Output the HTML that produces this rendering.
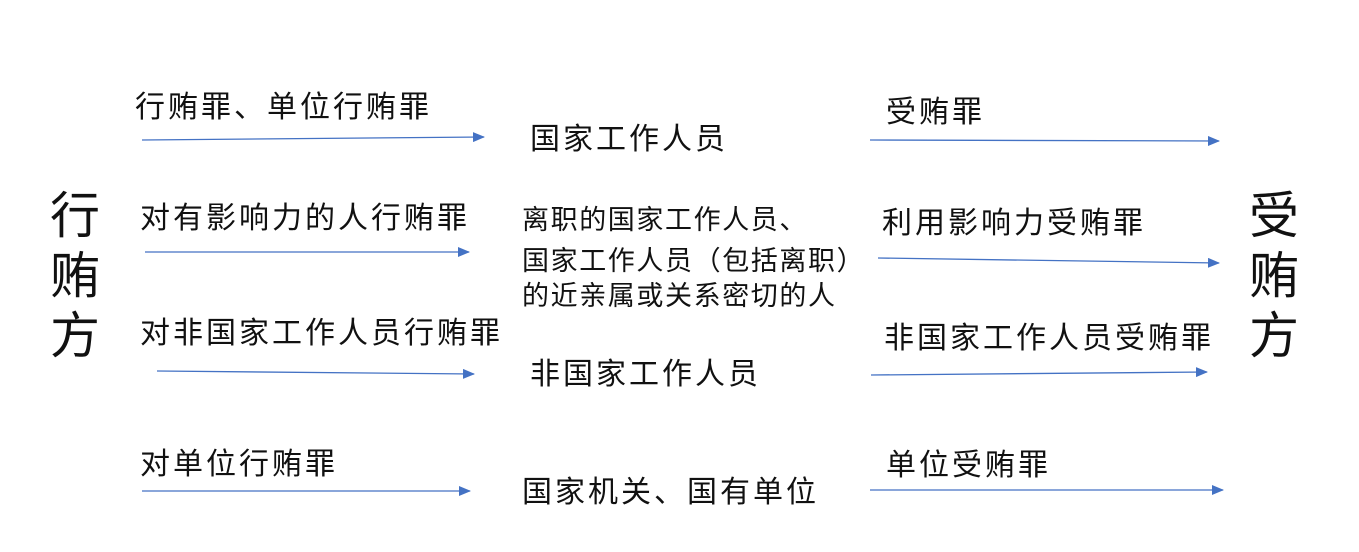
<!DOCTYPE html>
<html><head><meta charset="utf-8"><style>
html,body{margin:0;padding:0;background:#fff;}
body{width:1359px;height:552px;position:relative;overflow:hidden;font-family:"Liberation Sans","Noto Sans CJK SC",sans-serif;color:#111;}
.t{position:absolute;white-space:nowrap;line-height:1;font-size:30px;letter-spacing:3px;}
.m{font-size:27px;letter-spacing:1.6px;}
.big{position:absolute;font-size:50px;line-height:60px;width:60px;text-align:center;}
svg{position:absolute;left:0;top:0;}
</style></head><body>
<svg width="1359" height="552">
<defs><marker id="a" markerWidth="12" markerHeight="10" refX="11" refY="5" orient="auto" markerUnits="userSpaceOnUse"><path d="M0,0 L12,5 L0,10 z" fill="#4472C4"/></marker></defs>
<g stroke="#4472C4" stroke-width="1.3" marker-end="url(#a)">
<line x1="142" y1="140" x2="484" y2="137"/>
<line x1="145" y1="252" x2="469" y2="252"/>
<line x1="157" y1="371" x2="474" y2="374"/>
<line x1="142" y1="491" x2="470" y2="491"/>
<line x1="870" y1="140" x2="1219" y2="141"/>
<line x1="878" y1="258" x2="1219" y2="263"/>
<line x1="871" y1="375" x2="1207" y2="372"/>
<line x1="870" y1="490" x2="1223" y2="490"/>
</g></svg>
<div class="t" style="left:135px;top:93px">行贿罪、单位行贿罪</div>
<div class="t" style="left:140px;top:204px">对有影响力的人行贿罪</div>
<div class="t" style="left:140px;top:319px">对非国家工作人员行贿罪</div>
<div class="t" style="left:140px;top:450px">对单位行贿罪</div>
<div class="t" style="left:530px;top:125px">国家工作人员</div>
<div class="t m" style="left:522px;top:207px">离职的国家工作人员、</div>
<div class="t m" style="left:522px;top:248px">国家工作人员（包括离职）</div>
<div class="t m" style="left:522px;top:283px">的近亲属或关系密切的人</div>
<div class="t" style="left:530px;top:360px">非国家工作人员</div>
<div class="t" style="left:522px;top:478px">国家机关、国有单位</div>
<div class="t" style="left:886px;top:98px">受贿罪</div>
<div class="t" style="left:882px;top:209px">利用影响力受贿罪</div>
<div class="t" style="left:884px;top:324px">非国家工作人员受贿罪</div>
<div class="t" style="left:886px;top:451px">单位受贿罪</div>
<div class="big" style="left:45px;top:186px">行<br>贿<br>方</div>
<div class="big" style="left:1244px;top:186px">受<br>贿<br>方</div>
</body></html>
